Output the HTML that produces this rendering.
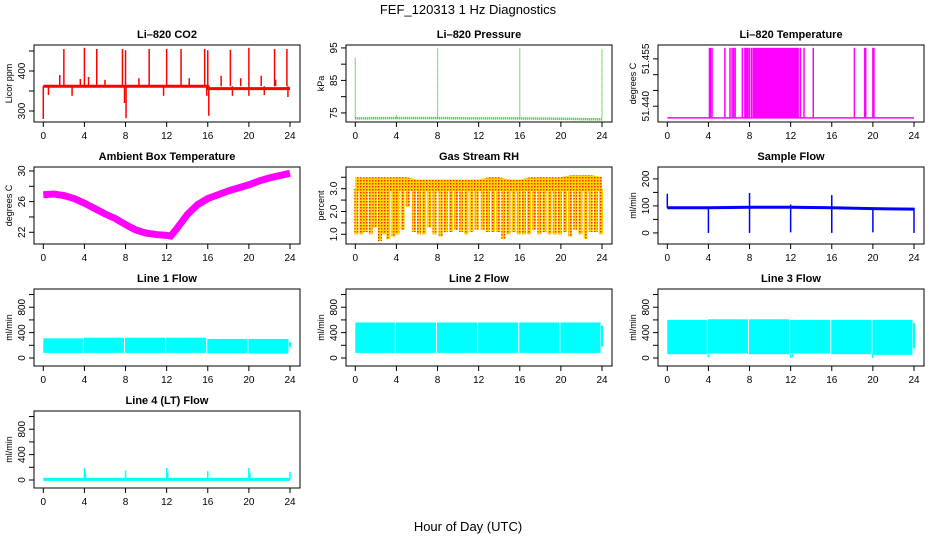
<!DOCTYPE html>
<html><head><meta charset="utf-8"><style>
html,body{margin:0;padding:0;background:#fff}
svg{display:block;font-family:"Liberation Sans",Arial,sans-serif}
</style></head><body>
<svg id="chart" width="936" height="540" viewBox="0 0 936 540" xmlns="http://www.w3.org/2000/svg">
<defs>
<pattern id="rhpat" width="3" height="3" patternUnits="userSpaceOnUse">
<rect width="3" height="3" fill="#ffd400"/><rect width="1.5" height="1.5" fill="#ff3000"/>
</pattern>
</defs>
<text x="468" y="14" text-anchor="middle" font-size="13">FEF_120313  1 Hz Diagnostics</text>
<text x="468" y="531" text-anchor="middle" font-size="13">Hour of Day (UTC)</text>
</svg>
<script>
// ---- data ----
const xTicks = [0,4,8,12,16,20,24];
// CO2
const co2BaseTimes = [0,4,8,12,16,16.1,20,24];
const co2BaseVals = [362,362,362,362,362,356,356,356];
const co2SpikeTimes = [2.0,4.0,5.2,7.7,8.0,10.3,12.0,13.4,15.7,16.0,18.2,20.0,22.5,23.7,1.6,3.6,4.4,6.0,9.3,14.2,17.3,19.2,21.2,22.6];
const co2SpikeVals = [455,458,455,455,452,455,455,455,455,452,453,458,455,455,390,380,385,378,382,382,388,382,388,378];
const co2DipTimes = [0,0.5,2.8,7.9,8.05,11.7,15.9,16.1,18.4,20.0,21.5,23.8];
const co2DipVals = [280,340,338,320,282,338,338,288,338,338,340,335];
// Pressure
const presTimes = [0,4,8,12,16,20,24];
const presVals = [73.3,73.4,73.4,73.3,73.3,73.2,73.0];
const presSpikeTimes = [0,4,8,16,24];
const presSpikeVals = [92,74.5,95,95,94.5];
// Li-820 temperature
const tempBase = 51.4363;
const tempHigh = 51.4585;
const tempSpikeTimes = [4.1,4.2,4.35,5.6,6.1,6.3,6.45,6.6,7.3,7.55,7.65,7.75,7.85,8.0,8.2,12.95,13.3,14.2,18.2,19.2,19.3,20.0,20.1];
const tempBlockStart = 8.3;
const tempBlockEnd = 12.8;
// Ambient box temperature
const ambTimes = [0,1,2,3,4,5,6,7,8,9,10,11,12,12.4,13,14,15,16,17,18,19,20,21,22,23,24];
const ambVals = [26.9,27.0,26.8,26.4,25.8,25.1,24.4,23.8,23.0,22.3,21.9,21.7,21.6,21.5,22.5,24.3,25.6,26.4,26.9,27.4,27.8,28.2,28.7,29.1,29.4,29.7];
// Gas stream RH
const rhTimes = [0,1,2,3,4,5,6,7,8,9,10,11,12,13,14,15,16,17,18,19,20,21,22,23,24];
const rhTop = [3.5,3.5,3.5,3.5,3.5,3.5,3.4,3.4,3.4,3.4,3.4,3.4,3.4,3.5,3.5,3.4,3.4,3.5,3.5,3.5,3.5,3.6,3.6,3.6,3.5];
const rhDipTimes = [0.1,0.6,1.0,1.5,1.9,2.4,2.8,3.2,3.7,4.1,4.6,5.1,5.7,6.2,6.7,7.2,7.7,8.3,8.8,9.3,9.8,10.3,10.8,11.3,11.8,12.4,12.9,13.4,13.9,14.4,14.9,15.4,15.9,16.4,16.9,17.4,17.9,18.4,18.9,19.4,19.9,20.4,20.9,21.4,21.9,22.4,22.9,23.4,23.9];
const rhDipVals = [1.0,1.0,1.1,1.0,1.3,0.7,1.0,0.8,0.9,1.0,1.2,2.2,1.1,1.0,1.0,1.3,1.0,0.9,1.1,1.1,1.2,1.1,1.0,1.1,1.2,1.2,1.1,1.1,1.1,0.8,1.0,1.1,1.0,1.0,1.0,1.2,1.0,1.1,1.0,1.0,1.0,1.1,0.9,1.2,1.0,0.8,1.1,1.1,1.0];
// Sample flow
const sfTimes = [0,4,8,12,16,20,24];
const sfVals = [93,93,95,95,93,90,88];
const sfSpikeTimes = [0,8,12,16];
const sfSpikeVals = [145,148,105,140];
const sfDipTimes = [4,8,12,16,20,24];
const sfDipVals = [0,0,2,0,2,0];
// Line flows (segments separated by gaps)
const segStarts = [0,3.95,7.95,11.95,15.95,19.95];
const segEnds = [3.85,7.85,11.85,15.85,19.85,23.85];
const l1Low = [80,80,80,80,75,70];
const l1High = [310,320,320,320,300,300];
const l2Low = [80,80,80,80,80,80];
const l2High = [560,560,560,560,560,560];
const l3Low = [60,70,60,70,60,50];
const l3High = [600,610,610,600,600,600];
const l3DipTimes = [4.0,12.0,12.2,20.0];
const l3DipVals = [10,0,20,0];
const l4Base = 10;
const l4SpikeTimes = [4.0,4.1,8.0,12.0,12.1,16.0,20.0,20.1,24.0];
const l4SpikeVals = [190,120,150,190,120,140,190,110,130];

// ---- drawing ----
const svg = document.getElementById('chart');
const NS = 'http://www.w3.org/2000/svg';
function mk(tag, attrs, parent){
  const e = document.createElementNS(NS, tag);
  for (const k in attrs) e.setAttribute(k, attrs[k]);
  (parent||svg).appendChild(e);
  return e;
}
const colLeft = [34,346,658];
const rowTop = [45,167,289,411];
const W = 266, H = 77;

function panel(c, r, ylim, yticks, ylabels, title, ylab, name){
  const L = colLeft[c], T = rowTop[r];
  const g = mk('g', {});
  
  
  const x = t => L + 9.3 + t * (246.7/24);
  const y = v => T + H - (v - ylim[0]) / (ylim[1]-ylim[0]) * H;
  const data = mk('g', {}, g);
  
  
  const box = mk('rect', {x:L, y:T, width:W, height:H, fill:'none', stroke:'#000', 'stroke-width':1}, g);
  
  
  const tt = mk('text', {x:L+W/2, y:T-7, 'text-anchor':'middle', 'font-size':11, 'font-weight':'bold'}, g);
  tt.textContent = title;
  
  
  const xa = mk('g', {}, g);
  
  
  mk('line', {x1:x(0), x2:x(24), y1:T+H, y2:T+H, stroke:'#000'}, xa);
  xTicks.forEach(t => {
    mk('line', {x1:x(t), x2:x(t), y1:T+H, y2:T+H+5, stroke:'#000'}, xa);
    const lb = mk('text', {x:x(t), y:T+H+17, 'text-anchor':'middle', 'font-size':10}, xa);
    lb.textContent = t;
  });
  const ya = mk('g', {}, g);
  
  
  mk('line', {x1:L, x2:L, y1:y(yticks[0]), y2:y(yticks[yticks.length-1]), stroke:'#000'}, ya);
  yticks.forEach((v,i) => {
    mk('line', {x1:L-5, x2:L, y1:y(v), y2:y(v), stroke:'#000'}, ya);
    if (ylabels[i] !== '') {
      const lb = mk('text', {x:L-9, y:y(v), 'text-anchor':'middle', 'font-size':10, transform:`rotate(-90 ${L-9} ${y(v)})`}, ya);
      lb.textContent = ylabels[i];
    }
  });
  const yl = mk('text', {x:L-22, y:T+H/2, 'text-anchor':'middle', 'font-size':9, transform:`rotate(-90 ${L-22} ${T+H/2})`}, g);
  yl.textContent = ylab;
  
  
  return {x, y, g:data};
}
function vline(p, t, v1, v2, color, w){
  return mk('line', {x1:p.x(t), x2:p.x(t), y1:p.y(v1), y2:p.y(v2), stroke:color, 'stroke-width':w||1.3}, p.g);
}
function polyline(p, ts, vs, color, w, extra){
  const pts = ts.map((t,i)=>p.x(t)+','+p.y(vs[i])).join(' ');
  const a = {points:pts, fill:'none', stroke:color, 'stroke-width':w};
  Object.assign(a, extra||{});
  return mk('polyline', a, p.g);
}

// CO2
{
  const p = panel(0,0,[272.5,465],[300,350,400,450],['300','','400',''],'Li\u2013820 CO2','Licor ppm','co2');
  co2SpikeTimes.forEach((t,i)=>vline(p,t,co2BaseVals[0],co2SpikeVals[i],'#ff0000',1.5));
  co2DipTimes.forEach((t,i)=>vline(p,t,co2BaseVals[0],co2DipVals[i],'#ff0000',1.5));
  polyline(p, co2BaseTimes, co2BaseVals, '#ff0000', 3);
}
// Pressure
{
  const p = panel(1,0,[72.2,95.9],[75,80,85,90,95],['75','','85','','95'],'Li\u2013820 Pressure','kPa','pressure');
  presSpikeTimes.forEach((t,i)=>vline(p,t,presVals[0],presSpikeVals[i],'#00cc00',1.2).setAttribute('stroke-dasharray','1 1'));
  polyline(p, presTimes, presVals, '#00cc00', 2.5, {'stroke-dasharray':'1 1'});
}
// Li-820 temperature
{
  const p = panel(2,0,[51.435,51.4594],[51.440,51.445,51.450,51.455],['51.440','','','51.455'],'Li\u2013820 Temperature','degrees C','li820-temp');
  tempSpikeTimes.forEach(t=>vline(p,t,tempBase,tempHigh,'#ff00ff',1.5));
  mk('rect',{x:p.x(tempBlockStart), y:p.y(tempHigh), width:p.x(tempBlockEnd)-p.x(tempBlockStart), height:p.y(tempBase)-p.y(tempHigh), fill:'#ff00ff'}, p.g);
  polyline(p,[0,24],[tempBase,tempBase],'#ff00ff',1.5);
}
// Ambient
{
  const p = panel(0,1,[20.47,30.52],[22,24,26,28,30],['22','','26','','30'],'Ambient Box Temperature','degrees C','ambient-temp');
  polyline(p, ambTimes, ambVals, '#ff00ff', 7);
}
// RH
{
  const p = panel(1,1,[0.575,3.95],[1.0,1.5,2.0,2.5,3.0,3.5],['1.0','','2.0','','3.0',''],'Gas Stream RH','percent','gas-rh');
  const top = rhTimes.map((t,i)=>p.x(t)+','+p.y(rhTop[i])).join(' ');
  mk('polygon',{points:top+' '+p.x(24)+','+p.y(2.9)+' '+p.x(0)+','+p.y(2.9), fill:'url(#rhpat)'}, p.g);
  rhDipTimes.forEach((t,i)=>{
    mk('rect',{x:p.x(t)-2, y:p.y(3.0), width:4, height:p.y(rhDipVals[i])-p.y(3.0), fill:'url(#rhpat)'}, p.g);
  });
}
// Sample flow
{
  const p = panel(2,1,[-41,244],[0,50,100,150,200],['0','','100','','200'],'Sample Flow','ml/min','sample-flow');
  sfSpikeTimes.forEach((t,i)=>vline(p,t,sfVals[0],sfSpikeVals[i],'#0000ff',1.5));
  sfDipTimes.forEach((t,i)=>vline(p,t,sfVals[0],sfDipVals[i],'#0000ff',1.5));
  polyline(p, sfTimes, sfVals, '#0000ff', 3);
}
// Line flows
function flowPanel(c,r,title,name,low,high,dT,dV){
  const p = panel(c,r,[-126,1087],[0,200,400,600,800,1000],['0','','400','','800',''],title,'ml/min',name);
  segStarts.forEach((s,i)=>{
    mk('rect',{x:p.x(s), y:p.y(high[i]), width:p.x(segEnds[i])-p.x(s), height:p.y(low[i])-p.y(high[i]), fill:'#00ffff'}, p.g);
  });
  vline(p,24,low[5]+100,high[5]-50,'#00ffff',2);
  if (dT) dT.forEach((t,i)=>vline(p,t,low[0],dV[i],'#00ffff',1.5));
  return p;
}
flowPanel(0,2,'Line 1 Flow','line1-flow',l1Low,l1High);
flowPanel(1,2,'Line 2 Flow','line2-flow',l2Low,l2High);
flowPanel(2,2,'Line 3 Flow','line3-flow',l3Low,l3High,l3DipTimes,l3DipVals);
{
  const p = panel(0,3,[-126,1087],[0,200,400,600,800,1000],['0','','400','','800',''],'Line 4 (LT) Flow','ml/min','line4-flow');
  l4SpikeTimes.forEach((t,i)=>vline(p,t,l4Base,l4SpikeVals[i],'#00ffff',1.5));
  polyline(p,[0,24],[l4Base,l4Base],'#00ffff',3);
}
</script>
</body></html>
